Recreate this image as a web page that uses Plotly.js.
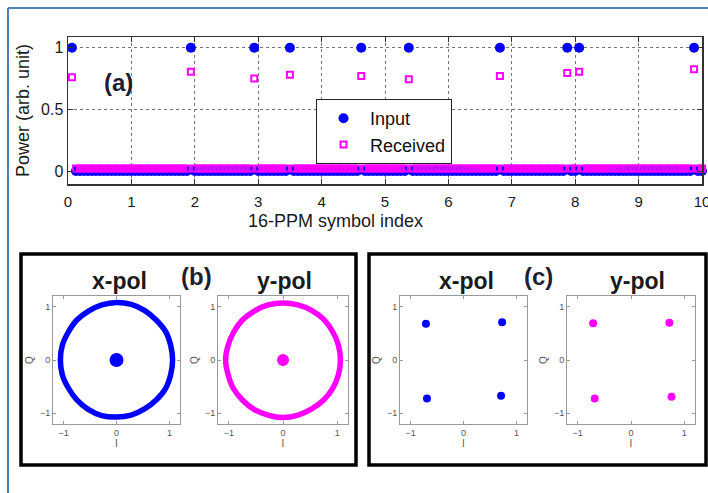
<!DOCTYPE html>
<html><head><meta charset="utf-8">
<script src="https://cdn.plot.ly/plotly-3.0.1.min.js"></script>
<style>html,body{margin:0;padding:0;background:#fff;}#chart{width:708px;height:493px;}</style>
</head><body><div id="chart"></div>
<script>
// ---------------- data ----------------
const slotsPerSymbol = 16;
const numSymbols = 10;
const pulseSlots = [1, 31, 47, 56, 74, 86, 109, 126, 129, 158];
const inputPeaks = [1, 1, 1, 1, 1, 1, 1, 1, 1, 1];
const receivedPeaks = [0.76, 0.805, 0.75, 0.78, 0.77, 0.745, 0.77, 0.795, 0.805, 0.825];
const inputOffLevel = 0;
const receivedOffLevel = 0.02;
const xTickVals = [0, 1, 2, 3, 4, 5, 6, 7, 8, 9, 10];
const yTickVals = [0, 0.5, 1];
const yTickText = ['0', '0.5', '1'];

// constellation (b): ring read every 15 degrees (angle, radius), plus centre cluster
const ringAngles = [0, 15, 30, 45, 60, 75, 90, 105, 120, 135, 150, 165, 180, 195, 210, 225, 240, 255, 270, 285, 300, 315, 330, 345];
const ringRadiusX = [1.06, 1.06, 1.07, 1.06, 1.07, 1.08, 1.08, 1.07, 1.06, 1.06, 1.05, 1.06, 1.06, 1.06, 1.05, 1.06, 1.07, 1.08, 1.07, 1.07, 1.06, 1.06, 1.07, 1.06];
const ringRadiusY = [1.06, 1.06, 1.06, 1.07, 1.07, 1.07, 1.07, 1.07, 1.06, 1.06, 1.05, 1.05, 1.06, 1.05, 1.06, 1.06, 1.07, 1.07, 1.08, 1.07, 1.06, 1.06, 1.06, 1.06];
const centreI = [0.0];
const centreQ = [0.0];
// constellation (c): QPSK clusters
const qpskIx = [-0.71, 0.73, -0.69, 0.71];
const qpskQx = [0.68, 0.71, -0.72, -0.67];
const qpskIy = [-0.71, 0.72, -0.68, 0.76];
const qpskQy = [0.69, 0.70, -0.72, -0.69];
const constTicks = [-1, 0, 1];

// ---------------- build ----------------
const W = 708, H = 493;
const px = v => v / W;
const py = v => 1 - v / H;
const BLUE = '#0000ff', MAG = '#ff00ff';

const slotX = [], inY = [], rxY = [];
for (let k = 1; k <= slotsPerSymbol * numSymbols; k++) {
  slotX.push(k / slotsPerSymbol);
  const p = pulseSlots.indexOf(k);
  inY.push(p >= 0 ? inputPeaks[p] : inputOffLevel);
  rxY.push(p >= 0 ? receivedPeaks[p] : receivedOffLevel);
}
const ringXY = radii => {
  const xs = [], ys = [];
  ringAngles.concat([ringAngles[0]]).forEach((a, i) => {
    const r = radii[i % radii.length];
    xs.push(r * Math.cos(a * Math.PI / 180));
    ys.push(r * Math.sin(a * Math.PI / 180));
  });
  return {xs, ys};
};
const rX = ringXY(ringRadiusX), rY = ringXY(ringRadiusY);

const traces = [
  {x: slotX, y: inY, type: 'scatter', mode: 'markers', name: 'Input', legendgroup: 'g1',
   marker: {symbol: 'circle', color: BLUE, size: 10}, xaxis: 'x', yaxis: 'y', cliponaxis: false},
  {x: slotX, y: rxY, type: 'scatter', mode: 'markers', name: 'Received', legendgroup: 'g2',
   marker: {symbol: 'square-open', color: MAG, size: 6, line: {width: 2, color: MAG}}, xaxis: 'x', yaxis: 'y', cliponaxis: false},
  // (b) x-pol
  {x: rX.xs, y: rX.ys, type: 'scatter', mode: 'lines', line: {color: BLUE, width: 5.5, shape: 'spline'}, xaxis: 'x2', yaxis: 'y2', showlegend: false},
  {x: centreI, y: centreQ, type: 'scatter', mode: 'markers', marker: {color: BLUE, size: 14}, xaxis: 'x2', yaxis: 'y2', showlegend: false},
  // (b) y-pol
  {x: rY.xs, y: rY.ys, type: 'scatter', mode: 'lines', line: {color: MAG, width: 5.5, shape: 'spline'}, xaxis: 'x3', yaxis: 'y3', showlegend: false},
  {x: centreI, y: centreQ, type: 'scatter', mode: 'markers', marker: {color: MAG, size: 12}, xaxis: 'x3', yaxis: 'y3', showlegend: false},
  // (c)
  {x: qpskIx, y: qpskQx, type: 'scatter', mode: 'markers', marker: {color: BLUE, size: 8}, xaxis: 'x4', yaxis: 'y4', showlegend: false},
  {x: qpskIy, y: qpskQy, type: 'scatter', mode: 'markers', marker: {color: MAG, size: 8}, xaxis: 'x5', yaxis: 'y5', showlegend: false}
];

const FAM = 'Arial, Liberation Sans, sans-serif';
const fontA = {family: FAM, color: '#1a1a1a'};
const constX = (dom, anchor) => ({
  domain: dom, anchor: anchor, range: [-1.2, 1.2], tickvals: constTicks, ticks: 'inside', ticklen: 3,
  tickcolor: '#999', showline: true, mirror: 'ticks', linecolor: '#999', linewidth: 1, showgrid: false, zeroline: false,
  tickfont: {family: FAM, size: 9, color: '#555'},
  title: {text: 'I', font: {family: FAM, size: 10, color: '#555'}, standoff: 2}
});
const constY = (anchor) => ({
  domain: [py(424), py(296)], anchor: anchor, range: [-1.2, 1.2], tickvals: constTicks, ticks: 'inside', ticklen: 3,
  tickcolor: '#999', showline: true, mirror: 'ticks', linecolor: '#999', linewidth: 1, showgrid: false, zeroline: false,
  tickfont: {family: FAM, size: 9, color: '#555'},
  title: {text: 'Q', font: {family: FAM, size: 10, color: '#555'}, standoff: 4}
});
const ann = (text, x, y, size, extra) => Object.assign({
  text: text, xref: 'paper', yref: 'paper', x: px(x), y: py(y), xanchor: 'center', yanchor: 'middle', showarrow: false,
  font: Object.assign({size: size}, fontA)
}, extra || {});
const boldFont = (size, color) => ({family: FAM, size: size, color: color || '#1a1a1a', weight: 'bold'});

const layout = {
  width: W, height: H, margin: {l: 0, r: 0, t: 0, b: 0}, paper_bgcolor: '#fff', plot_bgcolor: '#fff',
  showlegend: true,
  legend: {x: px(316), y: py(99), xanchor: 'left', yanchor: 'top', bgcolor: '#fff', bordercolor: '#222', borderwidth: 1,
           font: {family: FAM, size: 18, color: '#111'}, itemwidth: 43, tracegroupgap: 0},
  xaxis: {domain: [px(68), px(702)], anchor: 'y', range: [0, 10], tickvals: xTickVals, ticks: 'inside', ticklen: 5,
          showline: true, mirror: 'ticks', linecolor: '#333', linewidth: 1.5, tickcolor: '#333', zeroline: false,
          showgrid: true, gridcolor: '#777', griddash: 'dot', gridwidth: 1, ticklabeloverflow: 'allow', ticklabelstandoff: 3,
          tickfont: Object.assign({size: 15}, fontA)},
  yaxis: {domain: [py(184), py(37)], anchor: 'x', range: [-0.105, 1.087], tickvals: yTickVals, ticktext: yTickText,
          ticks: 'inside', ticklen: 5, showline: true, mirror: 'ticks', linecolor: '#333', linewidth: 1.5, tickcolor: '#333',
          zeroline: false, showgrid: true, gridcolor: '#777', griddash: 'dot', gridwidth: 1,
          tickfont: Object.assign({size: 16}, fontA)},
  xaxis2: constX([px(53), px(180)], 'y2'), yaxis2: constY('x2'),
  xaxis3: constX([px(218), px(348)], 'y3'), yaxis3: constY('x3'),
  xaxis4: constX([px(400), px(527)], 'y4'), yaxis4: constY('x4'),
  xaxis5: constX([px(567), px(695)], 'y5'), yaxis5: constY('x5'),
  shapes: [
    {type: 'line', xref: 'paper', yref: 'paper', x0: px(8), x1: px(708), y0: py(8), y1: py(8), line: {color: '#4f81bd', width: 2}},
    {type: 'line', xref: 'paper', yref: 'paper', x0: px(8), x1: px(8), y0: py(8), y1: py(493), line: {color: '#4f81bd', width: 2}},
    {type: 'rect', xref: 'paper', yref: 'paper', x0: px(21), x1: px(356), y0: py(465), y1: py(254), line: {color: '#000', width: 3.5}},
    {type: 'rect', xref: 'paper', yref: 'paper', x0: px(369), x1: px(706), y0: py(465), y1: py(254), line: {color: '#000', width: 3.5}}
  ],
  annotations: [
    ann('(a)', 118, 83, 24, {font: boldFont(24, '#1e1e30')}),
    ann('Power (arb. unit)', 23, 111, 18, {textangle: -90}),
    ann('16-PPM symbol index', 335, 221, 18),
    ann('x-pol', 119, 281, 23, {font: boldFont(23)}),
    ann('(b)', 196, 276, 24, {font: boldFont(24, '#1e1e30')}),
    ann('y-pol', 284, 281, 23, {font: boldFont(23)}),
    ann('x-pol', 467, 281, 23, {font: boldFont(23)}),
    ann('(c)', 538, 276, 24, {font: boldFont(24, '#1e1e30')}),
    ann('y-pol', 637, 281, 23, {font: boldFont(23)})
  ]
};

Plotly.newPlot('chart', traces, layout, {staticPlot: true, displayModeBar: false});
</script>
</body></html>
